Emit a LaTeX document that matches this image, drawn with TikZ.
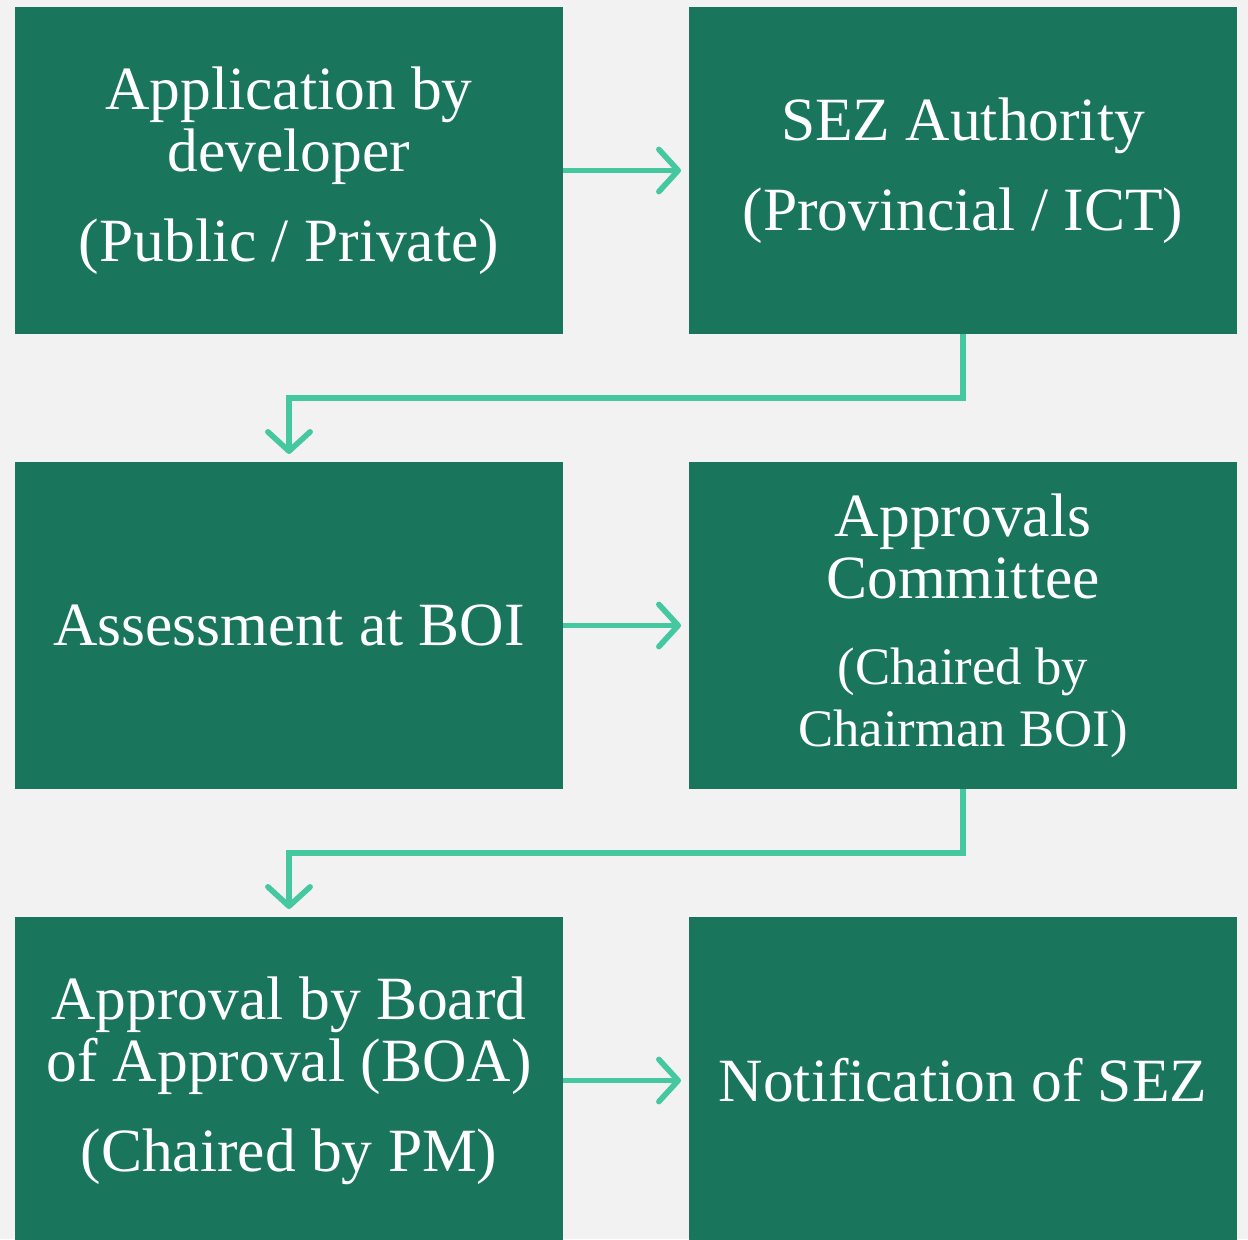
\documentclass[tikz,border=0pt]{standalone}
\usepackage{fontspec}
\setmainfont{Liberation Serif}
\usetikzlibrary{arrows.meta,positioning}
\definecolor{boxgreen}{RGB}{25,117,91}
\definecolor{arrowgreen}{RGB}{69,199,160}
\definecolor{bggray}{RGB}{242,242,242}

\begin{document}
\begin{tikzpicture}
\tikzstyle{step box}=[rectangle, fill=boxgreen, text=white, align=center,
	minimum width=5.48cm, minimum height=3.27cm, inner sep=0pt, outer sep=0pt,
	font=\fontsize{17.5}{17.6}\selectfont, node distance = 1.28cm and 1.26cm,
]
\tikzstyle{flow}=[draw=arrowgreen, line width=1.6pt,
	-{Straight Barb[length=5.5pt,width=12pt,round]}, shorten >=0.08cm,
]
\fill[bggray] (0,0) rectangle (12.48,-12.39);
\useasboundingbox (0,0) rectangle (12.48,-12.39);
\node[step box, anchor=north west] (app) at (0.15,-0.07) {Application by\\developer\\[8pt](Public / Private)};
\node[step box, right=1.26cm of app] (auth) {SEZ Authority\\[8pt](Provincial / ICT)};
\node[step box, below=1.28cm of app] (assess) {Assessment at BOI};
\node[step box, right=1.26cm of assess] (comm) {Approvals\\Committee\\[7pt]{\fontsize{15}{15.6}\selectfont(Chaired by}\\{\fontsize{15}{15.6}\selectfont Chairman BOI)}};
\node[step box, below=1.28cm of assess] (boa) {Approval by Board\\of Approval (BOA)\\[8pt](Chaired by PM)};
\node[step box, right=1.26cm of boa] (notif) {Notification of SEZ};
\draw[flow] (app.east) -- (auth.west);
\draw[flow] (auth.south) -- ++(0,-0.64) -| (assess.north);
\draw[flow] (assess.east) -- (comm.west);
\draw[flow] (comm.south) -- ++(0,-0.64) -| (boa.north);
\draw[flow] (boa.east) -- (notif.west);

\end{tikzpicture}
\end{document}
